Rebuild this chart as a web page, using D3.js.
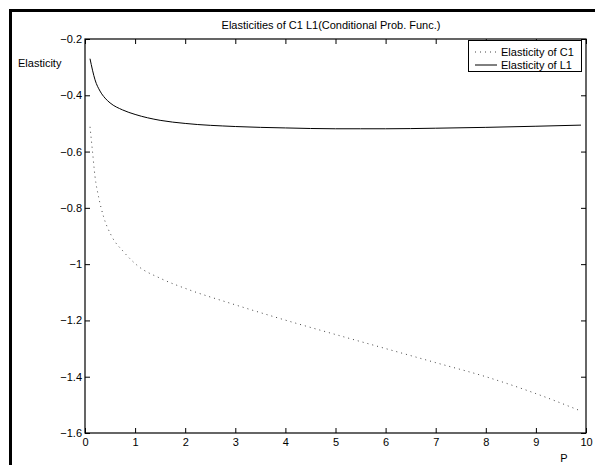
<!DOCTYPE html>
<html>
<head>
<meta charset="utf-8">
<script src="https://cdn.jsdelivr.net/npm/d3@7"></script>
<style>
  html, body { margin: 0; padding: 0; background: #fff; }
  svg { display: block; font-family: "Liberation Sans", Arial, sans-serif; }
</style>
</head>
<body>
<div id="chart"></div>
<script>
// дані
const pC1 = [0.1, 0.15, 0.2, 0.27, 0.37, 0.53, 0.77, 1.06, 1.5, 2.06, 2.9, 4, 5, 6, 7, 8, 9, 9.9];
const elasticityC1 = [-0.512, -0.60, -0.689, -0.76, -0.831, -0.90, -0.956, -1.007, -1.05, -1.09, -1.139, -1.199, -1.25, -1.30, -1.35, -1.40, -1.46, -1.522];
const pL1 = [0.1, 0.2, 0.3, 0.4, 0.5, 0.75, 1, 1.5, 2, 3, 4, 5, 5.5, 6, 7, 8, 9, 9.9];
const elasticityL1 = [-0.27, -0.345, -0.385, -0.41, -0.427, -0.452, -0.468, -0.489, -0.5, -0.511, -0.516, -0.519, -0.519, -0.519, -0.517, -0.514, -0.51, -0.506];
const xTicks = [0, 1, 2, 3, 4, 5, 6, 7, 8, 9, 10];
const yTicks = [-0.2, -0.4, -0.6, -0.8, -1, -1.2, -1.4, -1.6];
const seriesNames = ["Elasticity of C1", "Elasticity of L1"];

const width = 595, height = 465;
const plot = { left: 85, right: 586, top: 39, bottom: 433 };

const svg = d3.select("#chart").append("svg")
    .attr("width", width).attr("height", height)
    .style("background", "white");

// рамка сторінки (верх і ліво)
svg.append("line").attr("x1", 10.5).attr("x2", width).attr("y1", 10.5).attr("y2", 10.5)
    .attr("stroke", "#000").attr("stroke-width", 3);
svg.append("line").attr("x1", 10.5).attr("x2", 10.5).attr("y1", 9).attr("y2", height)
    .attr("stroke", "#000").attr("stroke-width", 3);

const x = d3.scaleLinear().domain([0, 10]).range([plot.left, plot.right]);
const y = d3.scaleLinear().domain([-1.6, -0.2]).range([plot.bottom, plot.top]);

const fmt = v => String(v).replace("-", "\u2212");
const tick = 5;

// осі в стилі MATLAB: тики всередину, з усіх боків
const axBottom = svg.append("g").attr("transform", `translate(0,${plot.bottom})`)
    .call(d3.axisBottom(x).tickValues(xTicks).tickSize(-tick).tickPadding(5).tickFormat(fmt));
const axTop = svg.append("g").attr("transform", `translate(0,${plot.top})`)
    .call(d3.axisTop(x).tickValues(xTicks).tickSize(-tick).tickFormat(""));
const axLeft = svg.append("g").attr("transform", `translate(${plot.left},0)`)
    .call(d3.axisLeft(y).tickValues(yTicks).tickSize(-tick).tickPadding(3).tickFormat(fmt));
const axRight = svg.append("g").attr("transform", `translate(${plot.right},0)`)
    .call(d3.axisRight(y).tickValues(yTicks).tickSize(-tick).tickFormat(""));

[axBottom, axTop, axLeft, axRight].forEach(g => {
    g.select(".domain").remove();
    g.selectAll("line").attr("stroke", "#000");
    g.selectAll("text").attr("fill", "#000").style("font-size", "11px");
});

svg.append("rect")
    .attr("x", plot.left).attr("y", plot.top)
    .attr("width", plot.right - plot.left).attr("height", plot.bottom - plot.top)
    .attr("fill", "none").attr("stroke", "#000").attr("stroke-width", 1.2);

const line = d3.line().x(d => x(d[0])).y(d => y(d[1])).curve(d3.curveMonotoneX);

svg.append("path")
    .datum(d3.zip(pC1, elasticityC1))
    .attr("d", line)
    .attr("fill", "none").attr("stroke", "#444").attr("stroke-width", 1)
    .attr("stroke-dasharray", "1,4");

svg.append("path")
    .datum(d3.zip(pL1, elasticityL1))
    .attr("d", line)
    .attr("fill", "none").attr("stroke", "#000").attr("stroke-width", 1);

// підписи
svg.append("text").attr("x", 331).attr("y", 29).attr("text-anchor", "middle")
    .style("font-size", "11px").text("Elasticities of C1 L1(Conditional Prob. Func.)");
svg.append("text").attr("x", 18).attr("y", 67)
    .style("font-size", "11px").text("Elasticity");
svg.append("text").attr("x", 564).attr("y", 462).attr("text-anchor", "middle")
    .style("font-size", "11px").text("P");

// легенда
const legend = svg.append("g").attr("transform", "translate(468,40)");
legend.append("rect").attr("x", 0.5).attr("y", 0.5).attr("width", 113).attr("height", 31)
    .attr("fill", "#fff").attr("stroke", "#000").attr("stroke-width", 1);
seriesNames.forEach((name, i) => {
    const ly = 12 + i * 13;
    legend.append("line").attr("x1", 7).attr("x2", 29).attr("y1", ly).attr("y2", ly)
        .attr("stroke", i === 0 ? "#444" : "#000")
        .attr("stroke-dasharray", i === 0 ? "1,4" : null);
    legend.append("text").attr("x", 33).attr("y", ly + 4)
        .style("font-size", "11px").text(name);
});
</script>
</body>
</html>
